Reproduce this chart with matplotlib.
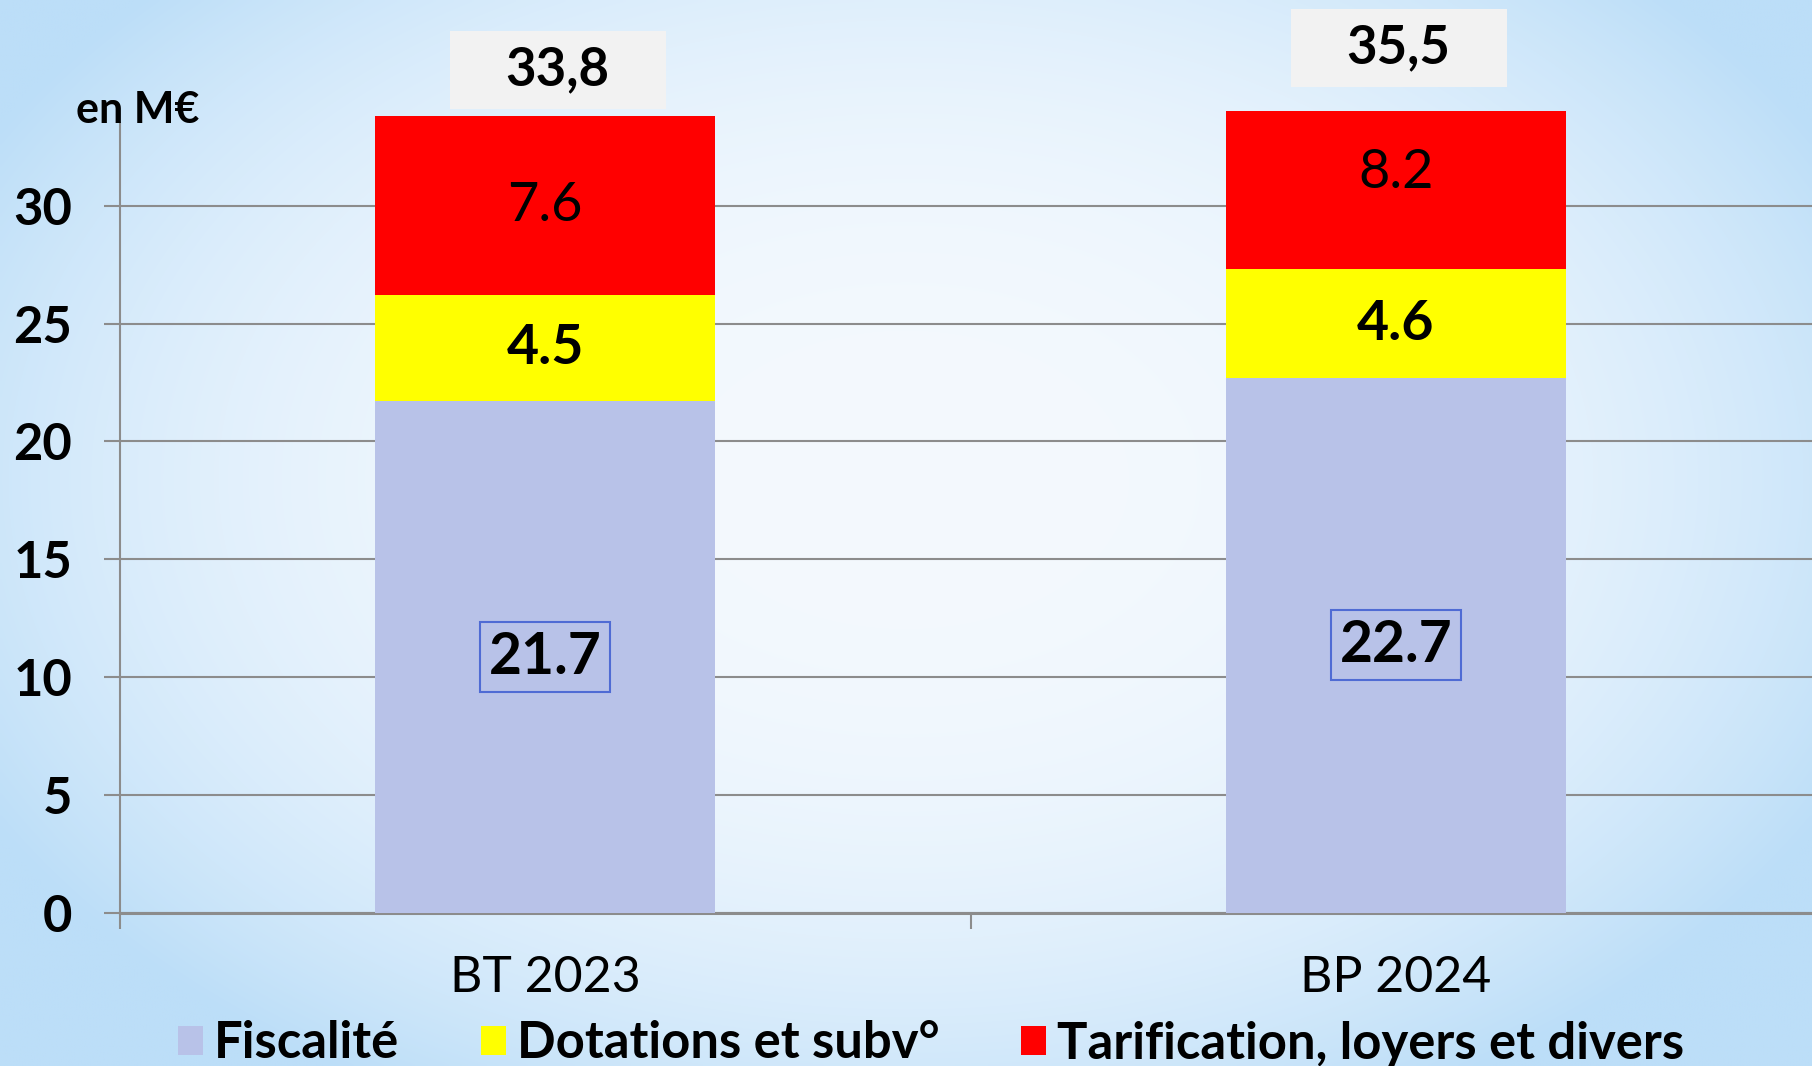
import numpy as np
import matplotlib
matplotlib.use("Agg")
import matplotlib.pyplot as plt
from matplotlib.path import Path
from matplotlib.patches import Patch

# ---------------- data ----------------
categories = ["BT 2023", "BP 2024"]
series_names = ["Fiscalité", "Dotations et subv°", "Tarification, loyers et divers"]
fiscalite = [21.7, 22.7]
dotations = [4.5, 4.6]
tarification = [7.6, 8.2]
totals_text = ["33,8", "35,5"]
yticks = [0, 5, 10, 15, 20, 25, 30]
y_max = 34.0
unit_label = "en M€"

# ---------------- style ----------------
colors = ["#b8c2e8", "#ffff00", "#ff0000"]
grid_col = "#8c8c8c"
plt.rcParams['font.family'] = ['Lato', 'DejaVu Sans']

W, H, DPI = 1812, 1066, 100
fig = plt.figure(figsize=(W / DPI, H / DPI), dpi=DPI)

# background gradient
bg = fig.add_axes([0, 0, 1, 1], zorder=-10)
yy, xx = np.mgrid[0:1:300j, 0:1:500j]
d = np.sqrt(((xx - 0.5) / 0.58) ** 2 + ((yy - 0.45) / 0.66) ** 2)
t = np.clip(d, 0, 1) ** 2.6
c0 = np.array([244, 249, 254]) / 255
c1 = np.array([188, 222, 248]) / 255
img = c0 * (1 - t[..., None]) + c1 * t[..., None]
bg.imshow(img, aspect='auto', extent=[0, 1, 0, 1], origin='upper', interpolation='bilinear')
bg.axis('off')

ax = fig.add_axes([120 / W, (H - 913) / H, (1821 - 120) / W, (913 - 111.3) / H])
ax.set_facecolor('none')

x = np.arange(len(categories))
width = 0.4
series = [fiscalite, dotations, tarification]
bottom = np.zeros(len(categories))
bottoms = []
for vals, col, name in zip(series, colors, series_names):
    bottoms.append(bottom.copy())
    ax.bar(x, vals, width, bottom=bottom, color=col, label=name, zorder=3,
           linewidth=0)
    bottom = bottom + np.array(vals)
totals = bottom


def fixed_box(wpx, hpx):
    def style(x0, y0, w, h, mutation_size):
        cx = x0 + w / 2
        cy = y0 + h / 2
        verts = [(cx - wpx / 2, cy - hpx / 2), (cx + wpx / 2, cy - hpx / 2),
                 (cx + wpx / 2, cy + hpx / 2), (cx - wpx / 2, cy + hpx / 2),
                 (cx - wpx / 2, cy - hpx / 2)]
        return Path(verts, closed=True)
    return style


fmt = lambda v: f"{v:.1f}"
# segment labels
for i in x:
    ax.text(i, bottoms[0][i] + fiscalite[i] / 2, fmt(fiscalite[i]), ha='center', va='center',
            fontsize=41, fontweight='bold', zorder=5,
            bbox=dict(boxstyle=fixed_box(130, 70), facecolor='none', edgecolor='#4f6bd4', linewidth=1.5))
    ax.text(i, bottoms[1][i] + dotations[i] / 2, fmt(dotations[i]), ha='center', va='center',
            fontsize=40, fontweight='bold', zorder=5)
    ax.text(i, bottoms[2][i] + tarification[i] / 2, fmt(tarification[i]), ha='center', va='center',
            fontsize=39, fontweight='normal', zorder=5)

# total labels
total_offsets_pt = [(9, 33), (2, 20)]
for i in x:
    ax.annotate(totals_text[i], xy=(i, totals[i]), xytext=total_offsets_pt[i],
                textcoords='offset points', ha='center', va='center', fontsize=38,
                fontweight='bold', zorder=6, annotation_clip=False,
                bbox=dict(boxstyle=fixed_box(216, 78), facecolor='#f2f2f2', edgecolor='none'))

ax.set_xlim(-0.5, 1.5)
ax.set_ylim(0, y_max)
ax.set_yticks(yticks)
ax.yaxis.grid(True, color=grid_col, linewidth=1.5, zorder=0)
ax.set_axisbelow(True)
ax.tick_params(axis='y', length=11.5, width=1.5, color=grid_col, pad=23, labelsize=36.5)
for lab in ax.get_yticklabels():
    lab.set_fontweight('bold')
ax.set_xticks(x, categories)
ax.set_xticks([-0.5, 0.5, 1.5], minor=True)
ax.tick_params(axis='x', which='major', length=0, pad=30, labelsize=36)
ax.tick_params(axis='x', which='minor', length=11.5, width=1.5, color=grid_col)
for s in ['top', 'right']:
    ax.spines[s].set_visible(False)
ax.spines['left'].set_color(grid_col)
ax.spines['left'].set_linewidth(1.5)
ax.spines['left'].set_bounds(0, 33.5)
ax.spines['bottom'].set_color(grid_col)
ax.spines['bottom'].set_linewidth(2.2)

fig.text(76 / W, 1 - 110 / H, unit_label, ha='left', va='center', fontsize=31, fontweight='bold')

handles = [Patch(facecolor=c, edgecolor='none') for c in colors]
fig.legend(handles, series_names, loc='center', bbox_to_anchor=(931 / W, 22 / H), ncol=3,
           frameon=False, prop=dict(size=36.5, weight='bold'), handlelength=0.5,
           handleheight=0.5, handletextpad=0.22, columnspacing=1.6, borderpad=0,
           borderaxespad=0)

fig.savefig("out.png", dpi=DPI)
